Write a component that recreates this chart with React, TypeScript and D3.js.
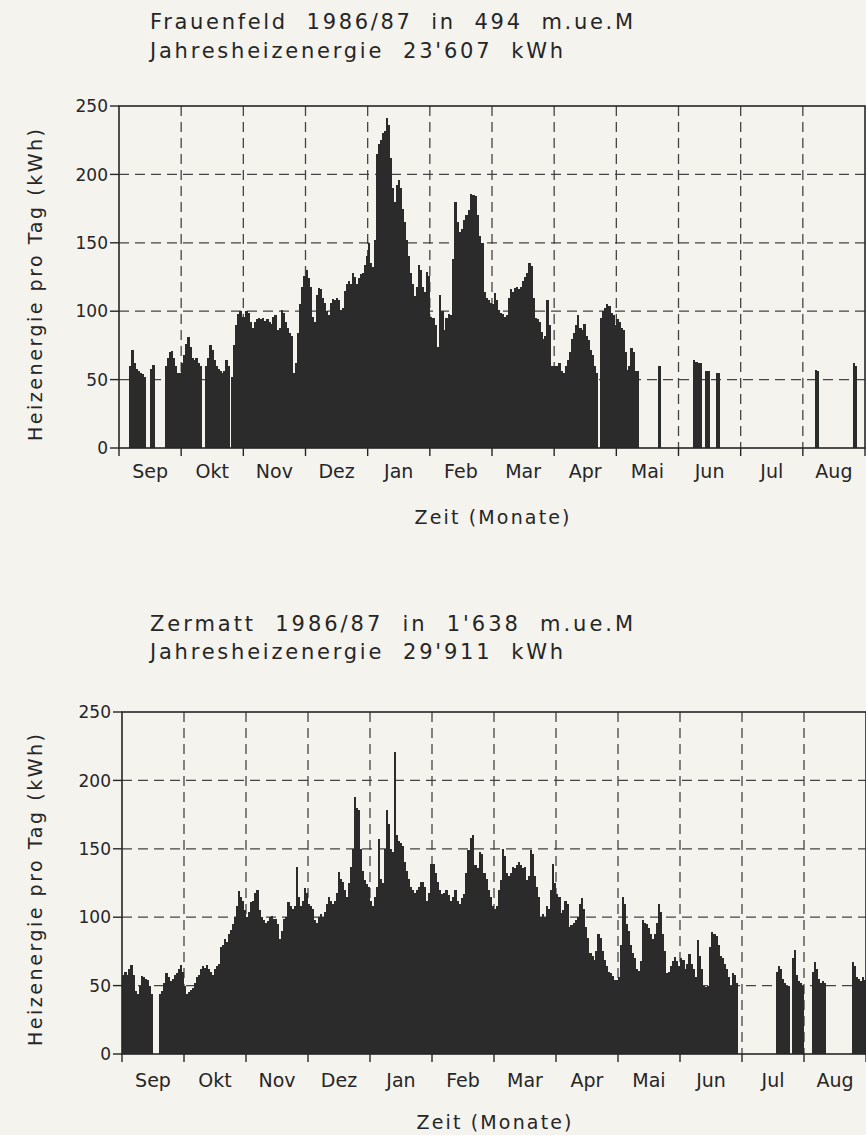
import React from 'react';
import * as d3 from 'd3';

// months of the heating year, equal width on the axis
const MONTHS = ['Sep', 'Okt', 'Nov', 'Dez', 'Jan', 'Feb', 'Mar', 'Apr', 'Mai', 'Jun', 'Jul', 'Aug'];
const DAYS_IN_MONTH = [30, 31, 30, 31, 31, 28, 31, 30, 31, 30, 31, 31];
const Y_TICKS = [0, 50, 100, 150, 200, 250];
const Y_GRID = [50, 100, 150, 200];

// daily heating energy (kWh), one row per month
const frauenfeldDaily = [
  [0, 0, 0, 0, 0, 60, 72, 62, 58, 56, 55, 54, 52, 0, 0, 58, 61, 0, 0, 0, 0, 0, 60, 66, 70, 71, 66, 60, 55, 55],
  [62, 68, 76, 81, 74, 66, 64, 66, 62, 60, 0, 0, 60, 66, 75, 72, 64, 60, 58, 56, 55, 56, 64, 60, 0, 52, 75, 90, 98, 100, 96],
  [96, 100, 99, 92, 88, 92, 94, 95, 94, 95, 93, 94, 92, 91, 96, 97, 86, 88, 101, 99, 92, 88, 84, 82, 55, 62, 84, 105, 118, 126],
  [130, 124, 118, 96, 92, 112, 117, 116, 110, 106, 100, 97, 106, 109, 108, 110, 108, 101, 102, 115, 120, 122, 120, 128, 125, 120, 124, 127, 128, 134, 140],
  [150, 135, 132, 152, 215, 222, 225, 230, 232, 241, 236, 212, 190, 180, 192, 196, 190, 175, 165, 152, 140, 128, 120, 111, 118, 134, 130, 118, 114, 129, 126],
  [96, 95, 90, 74, 112, 100, 86, 95, 98, 97, 138, 180, 165, 158, 160, 167, 170, 174, 186, 185, 184, 170, 155, 150, 114, 110, 108, 106],
  [105, 113, 108, 101, 99, 98, 96, 97, 110, 116, 114, 117, 118, 116, 118, 122, 125, 128, 135, 133, 110, 95, 94, 92, 85, 80, 82, 108, 90, 60, 60],
  [60, 60, 62, 56, 55, 60, 64, 70, 80, 84, 90, 97, 88, 86, 91, 82, 79, 72, 68, 60, 55, 0, 95, 100, 102, 105, 104, 99, 97, 90],
  [94, 92, 88, 86, 70, 57, 60, 73, 70, 56, 56, 0, 0, 0, 0, 0, 0, 0, 0, 0, 0, 60, 0, 0, 0, 0, 0, 0, 0, 0, 0],
  [0, 0, 0, 0, 0, 0, 0, 64, 63, 62, 62, 0, 0, 56, 56, 0, 0, 0, 55, 55, 0, 0, 0, 0, 0, 0, 0, 0, 0, 0],
  [0, 0, 0, 0, 0, 0, 0, 0, 0, 0, 0, 0, 0, 0, 0, 0, 0, 0, 0, 0, 0, 0, 0, 0, 0, 0, 0, 0, 0, 0, 0],
  [0, 0, 0, 0, 0, 0, 57, 56, 0, 0, 0, 0, 0, 0, 0, 0, 0, 0, 0, 0, 0, 0, 0, 0, 0, 62, 60, 0, 0, 0, 0],
];

const zermattDaily = [
  [58, 60, 58, 62, 65, 58, 46, 44, 50, 57, 56, 55, 54, 50, 44, 0, 0, 0, 44, 46, 52, 59, 56, 53, 55, 58, 59, 62, 65, 60],
  [50, 44, 45, 47, 48, 52, 56, 58, 62, 64, 63, 65, 62, 60, 58, 62, 64, 66, 78, 80, 84, 82, 88, 91, 95, 100, 108, 119, 115, 112, 105],
  [100, 104, 111, 112, 118, 120, 105, 100, 98, 96, 97, 100, 101, 99, 99, 95, 84, 90, 99, 100, 111, 108, 106, 108, 137, 115, 108, 112, 121, 118],
  [110, 108, 106, 98, 96, 100, 102, 100, 104, 110, 115, 112, 110, 112, 118, 133, 128, 126, 120, 115, 125, 137, 150, 188, 180, 178, 150, 134, 127, 124, 122],
  [112, 108, 115, 122, 157, 128, 125, 150, 178, 168, 150, 148, 221, 160, 156, 154, 152, 140, 134, 128, 122, 120, 118, 120, 122, 126, 126, 122, 112, 118, 139],
  [139, 132, 126, 120, 117, 118, 120, 116, 112, 115, 120, 112, 110, 114, 117, 132, 149, 158, 160, 138, 136, 148, 146, 132, 128, 120, 115, 108],
  [106, 108, 120, 127, 150, 145, 132, 130, 132, 137, 136, 138, 140, 138, 136, 137, 127, 130, 149, 146, 130, 122, 115, 100, 102, 100, 108, 106, 120, 139, 125],
  [117, 115, 103, 105, 112, 110, 93, 94, 96, 98, 100, 110, 114, 106, 93, 85, 74, 72, 69, 75, 88, 85, 75, 69, 64, 60, 59, 57, 54, 54],
  [56, 80, 115, 110, 95, 90, 80, 74, 70, 62, 61, 68, 98, 96, 95, 92, 88, 84, 88, 96, 110, 104, 88, 75, 59, 60, 64, 68, 71, 68, 64],
  [70, 69, 62, 66, 73, 66, 62, 56, 83, 72, 62, 50, 49, 50, 78, 89, 88, 86, 80, 72, 70, 66, 62, 56, 50, 59, 58, 52, 0, 0],
  [0, 0, 0, 0, 0, 0, 0, 0, 0, 0, 0, 0, 0, 0, 0, 0, 0, 60, 64, 62, 55, 52, 50, 50, 0, 70, 76, 58, 53, 52, 50],
  [0, 0, 0, 0, 60, 67, 62, 55, 52, 53, 52, 0, 0, 0, 0, 0, 0, 0, 0, 0, 0, 0, 0, 0, 67, 64, 56, 55, 53, 56, 54],
];

const FONT = '"DejaVu Sans", Verdana, sans-serif';
const INK = '#262626';
const BAR = '#2b2b2b';
const PAPER = '#f5f3ee';

const HeatChart = ({ title1, title2, daily, layout }) => {
  const { titleY, plotTop, plotBottom, left, right, monthLabelY, xLabelY, yLabelX, yLabelCy } = layout;

  const x = d3.scaleBand().domain(MONTHS).range([left, right]).padding(0);
  const y = d3.scaleLinear().domain([0, 250]).range([plotBottom, plotTop]);
  const bw = x.bandwidth();

  // month boundaries (13 of them, incl. both frame edges)
  const bounds = MONTHS.map(m => x(m)).concat([right]);

  const bars = [];
  MONTHS.forEach((m, mi) => {
    const dayScale = d3.scaleBand().domain(d3.range(DAYS_IN_MONTH[mi])).range([0, bw]);
    daily[mi].forEach((v, di) => {
      if (!v) return;
      bars.push(
        <rect
          key={`${mi}-${di}`}
          x={x(m) + dayScale(di)}
          y={y(v)}
          width={dayScale.bandwidth() + 0.4}
          height={y(0) - y(v)}
          fill={BAR}
        />
      );
    });
  });

  return (
    <g fontFamily={FONT} fill={INK}>
      {/* titles, plotter style with double word gaps */}
      <text x={150} y={titleY[0]} fontSize={21} textLength={483} lengthAdjust="spacing" style={{ whiteSpace: 'pre' }}>{title1}</text>
      <text x={150} y={titleY[1]} fontSize={21} textLength={413} lengthAdjust="spacing" style={{ whiteSpace: 'pre' }}>{title2}</text>

      {/* grid */}
      <g stroke="#444" strokeWidth={1.3} strokeDasharray="10 6" fill="none">
        {Y_GRID.map(t => (
          <line key={`h${t}`} x1={left} x2={right} y1={y(t)} y2={y(t)} />
        ))}
        {bounds.slice(1, -1).map((b, i) => (
          <line key={`v${i}`} x1={b} x2={b} y1={plotTop} y2={plotBottom} />
        ))}
      </g>

      {/* daily bars */}
      <g shapeRendering="crispEdges">{bars}</g>

      {/* frame and ticks */}
      <rect x={left} y={plotTop} width={right - left} height={plotBottom - plotTop} fill="none" stroke={INK} strokeWidth={1.6} />
      <g stroke={INK} strokeWidth={1.4}>
        {Y_TICKS.map(t => (
          <line key={`yt${t}`} x1={left - 9} x2={left} y1={y(t)} y2={y(t)} />
        ))}
        {bounds.map((b, i) => (
          <line key={`xt${i}`} x1={b} x2={b} y1={plotBottom} y2={plotBottom + 8} />
        ))}
      </g>

      {/* tick labels */}
      {Y_TICKS.map(t => (
        <text key={`yl${t}`} x={left - 11} y={y(t)} dy="0.36em" fontSize={17} textAnchor="end">{t}</text>
      ))}
      {MONTHS.map(m => (
        <text key={`ml${m}`} x={x(m) + bw / 2} y={monthLabelY} fontSize={19} textAnchor="middle">{m}</text>
      ))}

      {/* axis titles */}
      <text x={(left + right) / 2} y={xLabelY} fontSize={19} textAnchor="middle" textLength={155} lengthAdjust="spacing">Zeit (Monate)</text>
      <text
        transform={`translate(${yLabelX},${yLabelCy}) rotate(-90)`}
        fontSize={19}
        textAnchor="middle"
        textLength={312}
        lengthAdjust="spacing"
      >
        Heizenergie pro Tag (kWh)
      </text>
    </g>
  );
};

export default function App() {
  return (
    <svg
      width={866}
      height={1135}
      viewBox="0 0 866 1135"
      style={{ position: 'absolute', left: 0, top: 0, display: 'block' }}
    >
      <rect width={866} height={1135} fill={PAPER} />
      <HeatChart
        title1="Frauenfeld  1986/87  in  494  m.ue.M"
        title2="Jahresheizenergie  23'607  kWh"
        daily={frauenfeldDaily}
        layout={{
          titleY: [29, 58],
          plotTop: 106,
          plotBottom: 448,
          left: 119,
          right: 865,
          monthLabelY: 478,
          xLabelY: 524,
          yLabelX: 42,
          yLabelCy: 285,
        }}
      />
      <HeatChart
        title1="Zermatt  1986/87  in  1'638  m.ue.M"
        title2="Jahresheizenergie  29'911  kWh"
        daily={zermattDaily}
        layout={{
          titleY: [631, 659],
          plotTop: 712,
          plotBottom: 1054,
          left: 122,
          right: 866,
          monthLabelY: 1087,
          xLabelY: 1129,
          yLabelX: 42,
          yLabelCy: 890,
        }}
      />
    </svg>
  );
}
